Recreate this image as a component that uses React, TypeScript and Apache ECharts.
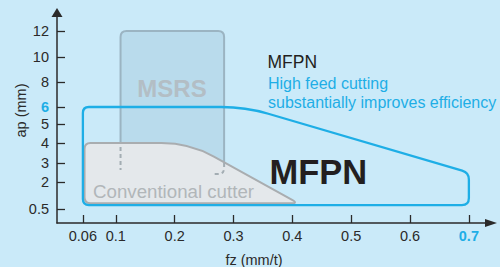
import React, { useEffect, useRef } from "react";
import * as echarts from "echarts";

// ---- data ----
const FZ_TICKS = [0.06, 0.1, 0.2, 0.3, 0.4, 0.5, 0.6, 0.7];
const AP_TICKS = [0.5, 2, 3, 4, 5, 6, 8, 10, 12];
const FZ_HIGHLIGHT = 0.7;
const AP_HIGHLIGHT = 6;

// region outlines, vertex by vertex (fz in mm/t, ap in mm)
const MSRS_FZ = [0.108, 0.284, 0.284, 0.108];
const MSRS_AP = [12, 12, 2.42, 2.42];
const CONV_FZ = [0.062, 0.225, 0.41, 0.062];
const CONV_AP = [4, 4, 0.82, 0.82];
const MFPN_FZ = [0.06, 0.32, 0.7, 0.7, 0.06];
const MFPN_AP = [6, 6, 2.5, 0.72, 0.72];
// hidden MSRS edges drawn dashed
const MSRS_HIDDEN_LEFT_AP = [3.8, 2.63];
const MSRS_HIDDEN_RIGHT_AP = [3, 2.42];
const MSRS_HIDDEN_RIGHT_END_FZ = 0.268;

// ---- axis scales (the drawing uses uneven tick spacing) ----
const AP_STOPS = [0, 0.5, 2, 3, 4, 5, 6, 8, 10, 12, 14];
const AP_STOP_POS = [0, 14, 41, 60, 80, 99, 116, 141, 166, 192, 218];
function apScale(ap: number): number {
  for (let i = 1; i < AP_STOPS.length; i++) {
    if (ap <= AP_STOPS[i] || i === AP_STOPS.length - 1) {
      const a = AP_STOPS[i - 1], b = AP_STOPS[i];
      const t = (ap - a) / (b - a);
      return AP_STOP_POS[i - 1] + t * (AP_STOP_POS[i] - AP_STOP_POS[i - 1]);
    }
  }
  return 0;
}
function fzScale(fz: number): number {
  return fz >= 0.1 ? fz : 0.1 - (0.1 - fz) * 1.4;
}

const BLUE = "#1eaee6";
const DARK = "#2b2a2a";
const FONT = "'Liberation Sans', Arial, Helvetica, sans-serif";

function roundedPath(pts: number[][], radii: number[]): string {
  const n = pts.length;
  const p1: number[][] = [];
  const p2: number[][] = [];
  for (let i = 0; i < n; i++) {
    const v = pts[i];
    const prev = pts[(i - 1 + n) % n];
    const next = pts[(i + 1) % n];
    const d1 = Math.hypot(prev[0] - v[0], prev[1] - v[1]);
    const d2 = Math.hypot(next[0] - v[0], next[1] - v[1]);
    const r = Math.min(radii[i], d1 / 2, d2 / 2);
    p1.push([v[0] + ((prev[0] - v[0]) * r) / d1, v[1] + ((prev[1] - v[1]) * r) / d1]);
    p2.push([v[0] + ((next[0] - v[0]) * r) / d2, v[1] + ((next[1] - v[1]) * r) / d2]);
  }
  let d = `M${p1[0][0]},${p1[0][1]}`;
  for (let i = 0; i < n; i++) {
    if (i > 0) d += ` L${p1[i][0]},${p1[i][1]}`;
    d += ` Q${pts[i][0]},${pts[i][1]} ${p2[i][0]},${p2[i][1]}`;
  }
  return d + " Z";
}

function shapeSeries(fz: number[], ap: number[], radii: number[], style: any, z: number) {
  return {
    type: "custom",
    coordinateSystem: "cartesian2d",
    silent: true,
    z,
    data: [[0, 0]],
    renderItem: (_p: any, api: any) => {
      const pts = fz.map((f, i) => api.coord([fzScale(f), apScale(ap[i])]));
      return { type: "path", shape: { pathData: roundedPath(pts, radii) }, style };
    },
  };
}

function fmtTick(v: number, ticks: number[], scale: (x: number) => number, hl: number) {
  let best = ticks[0];
  for (const t of ticks) if (Math.abs(scale(t) - v) < Math.abs(scale(best) - v)) best = t;
  return best === hl ? `{hl|${best}}` : String(best);
}

export default function App() {
  const ref = useRef<HTMLDivElement>(null);
  useEffect(() => {
    const chart = echarts.init(ref.current!, null, { renderer: "svg" });
    const axisText = { color: DARK, fontSize: 14.5, fontFamily: FONT };
    const rich = { hl: { color: BLUE, fontWeight: "bold", fontSize: 14.5, fontFamily: FONT } };
    const option: any = {
      animation: false,
      backgroundColor: "#caeaf9",
      grid: { left: 57, right: 9, top: 12.5, bottom: 44 },
      xAxis: {
        type: "value",
        min: 0,
        max: 434 / 588.4,
        splitLine: { show: false },
        axisLine: {
          lineStyle: { color: DARK, width: 1.5 },
          symbol: ["none", "triangle"],
          symbolSize: [8, 12],
        },
        axisTick: {
          inside: true,
          length: 8,
          lineStyle: { color: DARK, width: 1.3 },
          customValues: FZ_TICKS.map(fzScale),
        },
        axisLabel: {
          ...axisText,
          margin: 5,
          customValues: FZ_TICKS.map(fzScale),
          formatter: (v: number) => fmtTick(v, FZ_TICKS, fzScale, FZ_HIGHLIGHT),
          rich,
        },
      },
      yAxis: {
        type: "value",
        min: 0,
        max: 210.5,
        splitLine: { show: false },
        axisLine: {
          lineStyle: { color: DARK, width: 1.5 },
          symbol: ["none", "triangle"],
          symbolSize: [11, 9],
        },
        axisTick: {
          inside: true,
          length: 8,
          lineStyle: { color: DARK, width: 1.3 },
          customValues: AP_TICKS.map(apScale),
        },
        axisLabel: {
          ...axisText,
          margin: 8,
          customValues: AP_TICKS.map(apScale),
          formatter: (v: number) => fmtTick(v, AP_TICKS, apScale, AP_HIGHLIGHT),
          rich,
        },
      },
      series: [
        shapeSeries(MSRS_FZ, MSRS_AP, [6, 6, 6, 6], { fill: "#b9dbec", stroke: "#9bb4c2", lineWidth: 2 }, 2),
        shapeSeries(CONV_FZ, CONV_AP, [6, 28, 7, 6], { fill: "#e4e8eb", stroke: "#a9adb0", lineWidth: 2 }, 3),
        {
          type: "custom",
          coordinateSystem: "cartesian2d",
          silent: true,
          z: 4,
          data: [[0, 0]],
          renderItem: (_p: any, api: any) => {
            const a = api.coord([fzScale(MSRS_FZ[0]), apScale(MSRS_HIDDEN_LEFT_AP[0])]);
            const b = api.coord([fzScale(MSRS_FZ[0]), apScale(MSRS_HIDDEN_LEFT_AP[1])]);
            const c = api.coord([fzScale(MSRS_FZ[1]), apScale(MSRS_HIDDEN_RIGHT_AP[0])]);
            const k = api.coord([fzScale(MSRS_FZ[1]), apScale(MSRS_HIDDEN_RIGHT_AP[1])]);
            const e = api.coord([fzScale(MSRS_HIDDEN_RIGHT_END_FZ), apScale(MSRS_HIDDEN_RIGHT_AP[1])]);
            const r = 6;
            const d =
              `M${a[0]},${a[1]} L${b[0]},${b[1]} ` +
              `M${c[0]},${c[1]} L${k[0]},${k[1] - r} Q${k[0]},${k[1]} ${k[0] - r},${k[1]} L${e[0]},${e[1]}`;
            return {
              type: "path",
              shape: { pathData: d },
              style: { fill: "none", stroke: "#a3adb3", lineWidth: 2, lineDash: [4, 3] },
            };
          },
        },
        shapeSeries(MFPN_FZ, MFPN_AP, [6, 24, 7, 7, 6], { fill: "none", stroke: BLUE, lineWidth: 2.3 }, 5),
      ],
      graphic: [
        {
          type: "text", x: 172, y: 88, z: 10,
          style: { text: "MSRS", fill: "#b3bec5", font: `bold 24px ${FONT}`, align: "center", verticalAlign: "middle" },
        },
        {
          type: "text", x: 93, y: 191, z: 10,
          style: { text: "Conventional cutter", fill: "#b1b6b9", font: `18.7px ${FONT}`, align: "left", verticalAlign: "middle" },
        },
        {
          type: "text", x: 269.5, y: 171.5, z: 10,
          style: { text: "MFPN", fill: "#231f20", font: `bold 34.5px ${FONT}`, align: "left", verticalAlign: "middle" },
        },
        {
          type: "text", x: 267.5, y: 61.5, z: 10,
          style: { text: "MFPN", fill: "#231f20", font: `17.5px ${FONT}`, align: "left", verticalAlign: "middle" },
        },
        {
          type: "text", x: 268, y: 83, z: 10,
          style: { text: "High feed cutting", fill: BLUE, font: `16px ${FONT}`, align: "left", verticalAlign: "middle" },
        },
        {
          type: "text", x: 268, y: 102, z: 10,
          style: { text: "substantially improves efficiency", fill: BLUE, font: `16px ${FONT}`, align: "left", verticalAlign: "middle" },
        },
        {
          type: "text", x: 254, y: 260, z: 10,
          style: { text: "fz (mm/t)", fill: DARK, font: `14.5px ${FONT}`, align: "center", verticalAlign: "middle" },
        },
        {
          type: "text", x: 20.5, y: 110.5, z: 10, rotation: Math.PI / 2,
          style: { text: "ap (mm)", fill: DARK, font: `14.5px ${FONT}`, align: "center", verticalAlign: "middle" },
        },
      ],
    };
    chart.setOption(option);
    return () => chart.dispose();
  }, []);
  return <div ref={ref} style={{ position: "fixed", left: 0, top: 0, width: 500, height: 267 }} />;
}
